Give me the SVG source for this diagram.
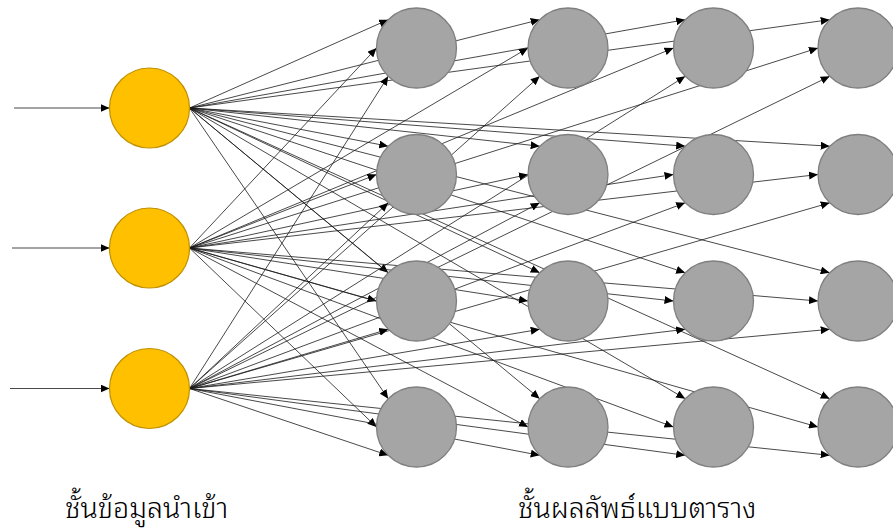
<svg xmlns="http://www.w3.org/2000/svg" width="893" height="531" viewBox="0 0 893 531">
  <defs>
    <marker id="arrow" markerUnits="userSpaceOnUse" markerWidth="9" markerHeight="8" refX="9" refY="4" orient="auto">
      <path d="M0,0 L9,4 L0,8 z" fill="#000"/>
    </marker>
    <style>
      .edge { stroke: #1a1a1a; stroke-width: 0.8; fill: none; marker-end: url(#arrow); }
      .input { fill: #FFC000; stroke: #BF9000; stroke-width: 1.2; }
      .grid { fill: #A5A5A5; stroke: #7F7F7F; stroke-width: 1.3; }
      .label { font-family: "Noto Sans Thai Looped", "Noto Serif Thai", "Noto Sans Thai", "Noto Sans", "DejaVu Sans", sans-serif; font-size: 28.6px; fill: #000; font-weight: 300; }
    </style>
  </defs>
  <rect width="893" height="531" fill="#fff"/>

  <g id="connectors">
    <!-- external inputs -->
    <line class="edge" x1="14" y1="108" x2="109.5" y2="108"/>
    <line class="edge" x1="12" y1="248" x2="109.5" y2="248"/>
    <line class="edge" x1="10" y1="388.5" x2="109.5" y2="388.5"/>

    <!-- input 1 to upper-left anchor of each grid node -->
    <line class="edge" x1="189.5" y1="108" x2="388.2" y2="19.7"/>
    <line class="edge" x1="189.5" y1="108" x2="539.7" y2="19.7"/>
    <line class="edge" x1="189.5" y1="108" x2="685.2" y2="19.7"/>
    <line class="edge" x1="189.5" y1="108" x2="829.7" y2="19.7"/>
    <line class="edge" x1="189.5" y1="108" x2="388.2" y2="146.2"/>
    <line class="edge" x1="189.5" y1="108" x2="539.7" y2="146.2"/>
    <line class="edge" x1="189.5" y1="108" x2="685.2" y2="146.2"/>
    <line class="edge" x1="189.5" y1="108" x2="829.7" y2="146.2"/>
    <line class="edge" x1="189.5" y1="108" x2="388.2" y2="272.7"/>
    <line class="edge" x1="189.5" y1="108" x2="539.7" y2="272.7"/>
    <line class="edge" x1="189.5" y1="108" x2="685.2" y2="272.7"/>
    <line class="edge" x1="189.5" y1="108" x2="829.7" y2="272.7"/>
    <line class="edge" x1="189.5" y1="108" x2="388.2" y2="398.7"/>
    <line class="edge" x1="189.5" y1="108" x2="539.7" y2="398.7"/>
    <line class="edge" x1="189.5" y1="108" x2="685.2" y2="398.7"/>
    <line class="edge" x1="189.5" y1="108" x2="829.7" y2="398.7"/>

    <!-- input 2 to left anchor of each grid node -->
    <line class="edge" x1="189.5" y1="248" x2="376.5" y2="48"/>
    <line class="edge" x1="189.5" y1="248" x2="528" y2="48"/>
    <line class="edge" x1="189.5" y1="248" x2="673.5" y2="48"/>
    <line class="edge" x1="189.5" y1="248" x2="818" y2="48"/>
    <line class="edge" x1="189.5" y1="248" x2="376.5" y2="174.5"/>
    <line class="edge" x1="189.5" y1="248" x2="528" y2="174.5"/>
    <line class="edge" x1="189.5" y1="248" x2="673.5" y2="174.5"/>
    <line class="edge" x1="189.5" y1="248" x2="818" y2="174.5"/>
    <line class="edge" x1="189.5" y1="248" x2="376.5" y2="301"/>
    <line class="edge" x1="189.5" y1="248" x2="528" y2="301"/>
    <line class="edge" x1="189.5" y1="248" x2="673.5" y2="301"/>
    <line class="edge" x1="189.5" y1="248" x2="818" y2="301"/>
    <line class="edge" x1="189.5" y1="248" x2="376.5" y2="427"/>
    <line class="edge" x1="189.5" y1="248" x2="528" y2="427"/>
    <line class="edge" x1="189.5" y1="248" x2="673.5" y2="427"/>
    <line class="edge" x1="189.5" y1="248" x2="818" y2="427"/>

    <!-- input 3 to lower-left anchor of each grid node -->
    <line class="edge" x1="189.5" y1="388.5" x2="388.2" y2="76.3"/>
    <line class="edge" x1="189.5" y1="388.5" x2="539.7" y2="76.3"/>
    <line class="edge" x1="189.5" y1="388.5" x2="685.2" y2="76.3"/>
    <line class="edge" x1="189.5" y1="388.5" x2="829.7" y2="76.3"/>
    <line class="edge" x1="189.5" y1="388.5" x2="388.2" y2="202.8"/>
    <line class="edge" x1="189.5" y1="388.5" x2="539.7" y2="202.8"/>
    <line class="edge" x1="189.5" y1="388.5" x2="685.2" y2="202.8"/>
    <line class="edge" x1="189.5" y1="388.5" x2="829.7" y2="202.8"/>
    <line class="edge" x1="189.5" y1="388.5" x2="388.2" y2="329.3"/>
    <line class="edge" x1="189.5" y1="388.5" x2="539.7" y2="329.3"/>
    <line class="edge" x1="189.5" y1="388.5" x2="685.2" y2="329.3"/>
    <line class="edge" x1="189.5" y1="388.5" x2="829.7" y2="329.3"/>
    <line class="edge" x1="189.5" y1="388.5" x2="388.2" y2="455.3"/>
    <line class="edge" x1="189.5" y1="388.5" x2="539.7" y2="455.3"/>
    <line class="edge" x1="189.5" y1="388.5" x2="685.2" y2="455.3"/>
    <line class="edge" x1="189.5" y1="388.5" x2="829.7" y2="455.3"/>
  </g>

  <!-- input layer -->
  <g id="in1"><circle class="input" cx="149.5" cy="108" r="40"/></g>
  <g id="in2"><circle class="input" cx="149.5" cy="248" r="40"/></g>
  <g id="in3"><circle class="input" cx="149.5" cy="388.5" r="40"/></g>

  <!-- output grid, row by row -->
  <g id="g11"><circle class="grid" cx="416.5" cy="48" r="40"/></g>
  <g id="g12"><circle class="grid" cx="568" cy="48" r="40"/></g>
  <g id="g13"><circle class="grid" cx="713.5" cy="48" r="40"/></g>
  <g id="g14"><circle class="grid" cx="858" cy="48" r="40"/></g>
  <g id="g21"><circle class="grid" cx="416.5" cy="174.5" r="40"/></g>
  <g id="g22"><circle class="grid" cx="568" cy="174.5" r="40"/></g>
  <g id="g23"><circle class="grid" cx="713.5" cy="174.5" r="40"/></g>
  <g id="g24"><circle class="grid" cx="858" cy="174.5" r="40"/></g>
  <g id="g31"><circle class="grid" cx="416.5" cy="301" r="40"/></g>
  <g id="g32"><circle class="grid" cx="568" cy="301" r="40"/></g>
  <g id="g33"><circle class="grid" cx="713.5" cy="301" r="40"/></g>
  <g id="g34"><circle class="grid" cx="858" cy="301" r="40"/></g>
  <g id="g41"><circle class="grid" cx="416.5" cy="427" r="40"/></g>
  <g id="g42"><circle class="grid" cx="568" cy="427" r="40"/></g>
  <g id="g43"><circle class="grid" cx="713.5" cy="427" r="40"/></g>
  <g id="g44"><circle class="grid" cx="858" cy="427" r="40"/></g>

  <!-- layer captions -->
  <g id="captions">
    <text class="label" x="65" y="518" font-size="29.5">ชั้นข้อมูลนำเข้า</text>
    <text class="label" x="518" y="518">ชั้นผลลัพธ์แบบตาราง</text>
  </g>
</svg>
